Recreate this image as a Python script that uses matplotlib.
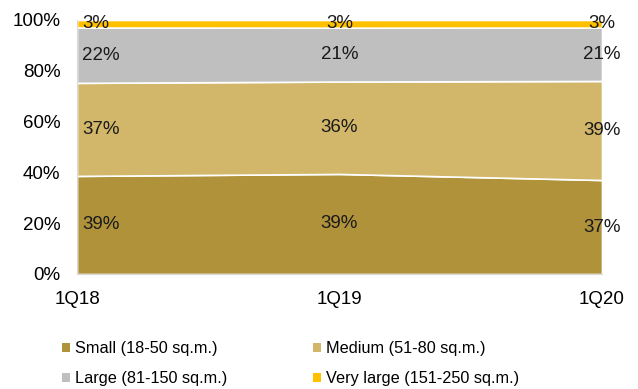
import numpy as np
from matplotlib import pyplot as plt
from matplotlib.patches import Patch

plt.rcParams['font.family'] = ['Liberation Sans', 'DejaVu Sans']

quarters = ['1Q18', '1Q19', '1Q20']
series_names = [
    'Small (18-50 sq.m.)',
    'Medium (51-80 sq.m.)',
    'Large (81-150 sq.m.)',
    'Very large (151-250 sq.m.)',
]
small = [39, 39, 37]
medium = [37, 36, 39]
large = [22, 21, 21]
very_large = [3, 3, 3]
colors = ['#B0923A', '#D2B76A', '#BFBFBF', '#FFC000']

values = np.array([small, medium, large, very_large], dtype=float)
# 100% stacked: normalise each quarter so the stack reaches the top
shares = values / values.sum(axis=0) * 100
x = np.arange(len(quarters))

fig = plt.figure(figsize=(6.38, 3.89), dpi=100)
ax = fig.add_axes([77 / 638, 1 - 274 / 389, 525 / 638, 254 / 389])

ax.stackplot(x, shares, colors=colors, edgecolor='white', linewidth=1.2)

# data labels in the middle of each band
bottoms = np.vstack([np.zeros(len(x)), np.cumsum(shares, axis=0)[:-1]])
mids = bottoms + shares / 2
for s in range(len(series_names)):
    for i in range(len(x)):
        ha = 'left' if i == 0 else 'center'
        xpos = x[i] + 0.02 if i == 0 else x[i]
        ax.text(xpos, mids[s, i], f'{values[s, i]:.0f}%', ha=ha,
                va='center', fontsize=13.5, color='#1a1a1a')

ax.set_xlim(0, 2)
ax.set_ylim(0, 100)
ax.set_xticks(x)
ax.set_xticklabels(quarters, fontsize=13.5)
ax.set_yticks(np.arange(0, 101, 20))
ax.set_yticklabels([f'{v}%' for v in range(0, 101, 20)], fontsize=13.5)
ax.tick_params(axis='y', length=0, pad=12)
ax.tick_params(axis='x', length=0, pad=12)
for side in ['top', 'right']:
    ax.spines[side].set_visible(False)
for side in ['left', 'bottom']:
    ax.spines[side].set_color('#d9d9d9')

# legend reads row by row: reorder for matplotlib's column-first filling
order = [0, 2, 1, 3]
handles = [Patch(facecolor=colors[k], edgecolor='none') for k in order]
labels = [series_names[k] for k in order]
fig.legend(handles, labels, loc='lower left', bbox_to_anchor=(47 / 638, -12 / 389),
           ncol=2, frameon=False, fontsize=11.7, handlelength=0.5, handleheight=0.5,
           handletextpad=0.3, columnspacing=5.3, labelspacing=0.93)

fig.savefig('out.png', dpi=100)
